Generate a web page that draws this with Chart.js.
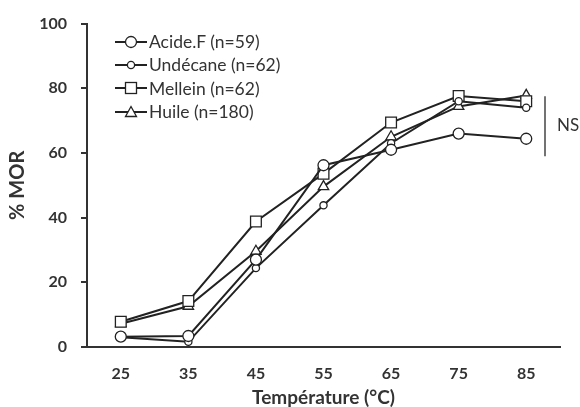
<!DOCTYPE html>
<html>
<head>
  <meta charset="UTF-8">
  <title>% MOR vs Température</title>
  <script src="https://cdn.jsdelivr.net/npm/chart.js"></script>
  <style>
    body { margin: 0; background: #fff; }
    #wrap { position: relative; width: 580px; height: 407px; }
    #legend { position: absolute; left: 114px; top: 30px; font-family: Lato, "Open Sans", sans-serif; font-size: 17.5px; color: #333; }
    #legend div { height: 23.3px; display: flex; align-items: center; white-space: nowrap; }
    #legend svg { margin-right: 1px; }
  </style>
</head>
<body>
  <div id="wrap">
    <canvas id="chart" width="580" height="407"></canvas>
    <div id="legend"></div>
  </div>

  <script>
    // temperatures (x categories)
    const temps = ['25', '35', '45', '55', '65', '75', '85'];

    // % MOR per series
    const acide    = [3.2, 3.4, 27.0, 56.2, 61.0, 66.0, 64.4];
    const undecane = [3.0, 1.6, 24.4, 43.8, 63.0, 76.0, 74.0];
    const mellein  = [7.8, 14.2, 38.8, 53.6, 69.4, 77.6, 76.0];
    const huile    = [7.2, 12.6, 29.6, 49.6, 65.0, 74.4, 77.8];

    const names = ['Acide.F (n=59)', 'Undécane (n=62)', 'Mellein (n=62)', 'Huile (n=180)'];
    const yTicks = [0, 20, 40, 60, 80, 100];

    const ink = '#222';
    const series = [
      { data: acide,    style: 'circle',   r: 5.5 },
      { data: undecane, style: 'circle',   r: 3.6 },
      { data: mellein,  style: 'rect',     r: 7.6 },
      { data: huile,    style: 'triangle', r: 6 }
    ];

    Chart.defaults.font.family = 'Lato, "Open Sans", sans-serif';
    Chart.defaults.color = '#333';

    // NS bracket on the right
    const nsPlugin = {
      id: 'ns',
      afterDraw(chart) {
        const c = chart.ctx, y = chart.scales.y, a = chart.chartArea;
        const x = a.right - 15;
        c.save();
        c.strokeStyle = '#444';
        c.lineWidth = 1.5;
        c.beginPath();
        c.moveTo(x, y.getPixelForValue(77.5));
        c.lineTo(x, y.getPixelForValue(59));
        c.stroke();
        c.fillStyle = '#333';
        c.font = '17px Lato, "Open Sans", sans-serif';
        c.textBaseline = 'middle';
        c.fillText('NS', x + 12, y.getPixelForValue(68.5));
        c.restore();
      }
    };

    new Chart(document.getElementById('chart'), {
      type: 'line',
      data: {
        labels: temps,
        datasets: series.map((s, i) => ({
          label: names[i],
          data: s.data,
          borderColor: ink,
          borderWidth: 2,
          pointStyle: s.style,
          pointRadius: s.r,
          pointBackgroundColor: '#fff',
          pointBorderColor: ink,
          pointBorderWidth: 1.3,
          tension: 0
        }))
      },
      options: {
        responsive: false,
        animation: false,
        layout: { padding: { left: 0, right: 20, top: 20, bottom: 0 } },
        plugins: { legend: { display: false }, tooltip: { enabled: false } },
        scales: {
          x: {
            offset: true,
            grid: { display: false },
            border: { display: true, color: '#333', width: 2 },
            ticks: { padding: 9.5, font: { size: 16, weight: 'bold' } },
            title: { display: true, text: 'Température (°C)', font: { size: 19, weight: 'bold', lineHeight: 1 }, padding: 0 },
            afterFit(s) { s.height = 60; }
          },
          y: {
            min: 0, max: 100,
            afterBuildTicks(s) { s.ticks = yTicks.map(v => ({ value: v })); },
            grid: { drawOnChartArea: false, drawTicks: true, tickLength: 6, color: '#333', lineWidth: 2 },
            border: { display: true, color: '#333', width: 2 },
            ticks: { padding: 14, font: { size: 16, weight: 'bold' } },
            title: { display: true, text: '% MOR', font: { size: 20, weight: 'bold' }, padding: { top: 5.5, bottom: 0 } },
            afterFit(s) { s.width = 87; }
          }
        }
      },
      plugins: [nsPlugin]
    });

    // legend overlay: line with marker, then text
    const lg = document.getElementById('legend');
    series.forEach((s, i) => {
      let mark;
      if (s.style === 'circle') {
        mark = `<circle cx="17" cy="8" r="${s.r}" fill="#fff" stroke="${ink}" stroke-width="1.3"/>`;
      } else if (s.style === 'rect') {
        mark = `<rect x="11.5" y="2.5" width="11" height="11" fill="#fff" stroke="${ink}" stroke-width="1.3"/>`;
      } else {
        mark = `<polygon points="17,2.5 22.5,12.5 11.5,12.5" fill="#fff" stroke="${ink}" stroke-width="1.3"/>`;
      }
      const row = document.createElement('div');
      row.innerHTML = `<svg width="34" height="16"><line x1="1" y1="8" x2="33" y2="8" stroke="${ink}" stroke-width="2"/>${mark}</svg><span>${names[i]}</span>`;
      lg.appendChild(row);
    });
  </script>
</body>
</html>
